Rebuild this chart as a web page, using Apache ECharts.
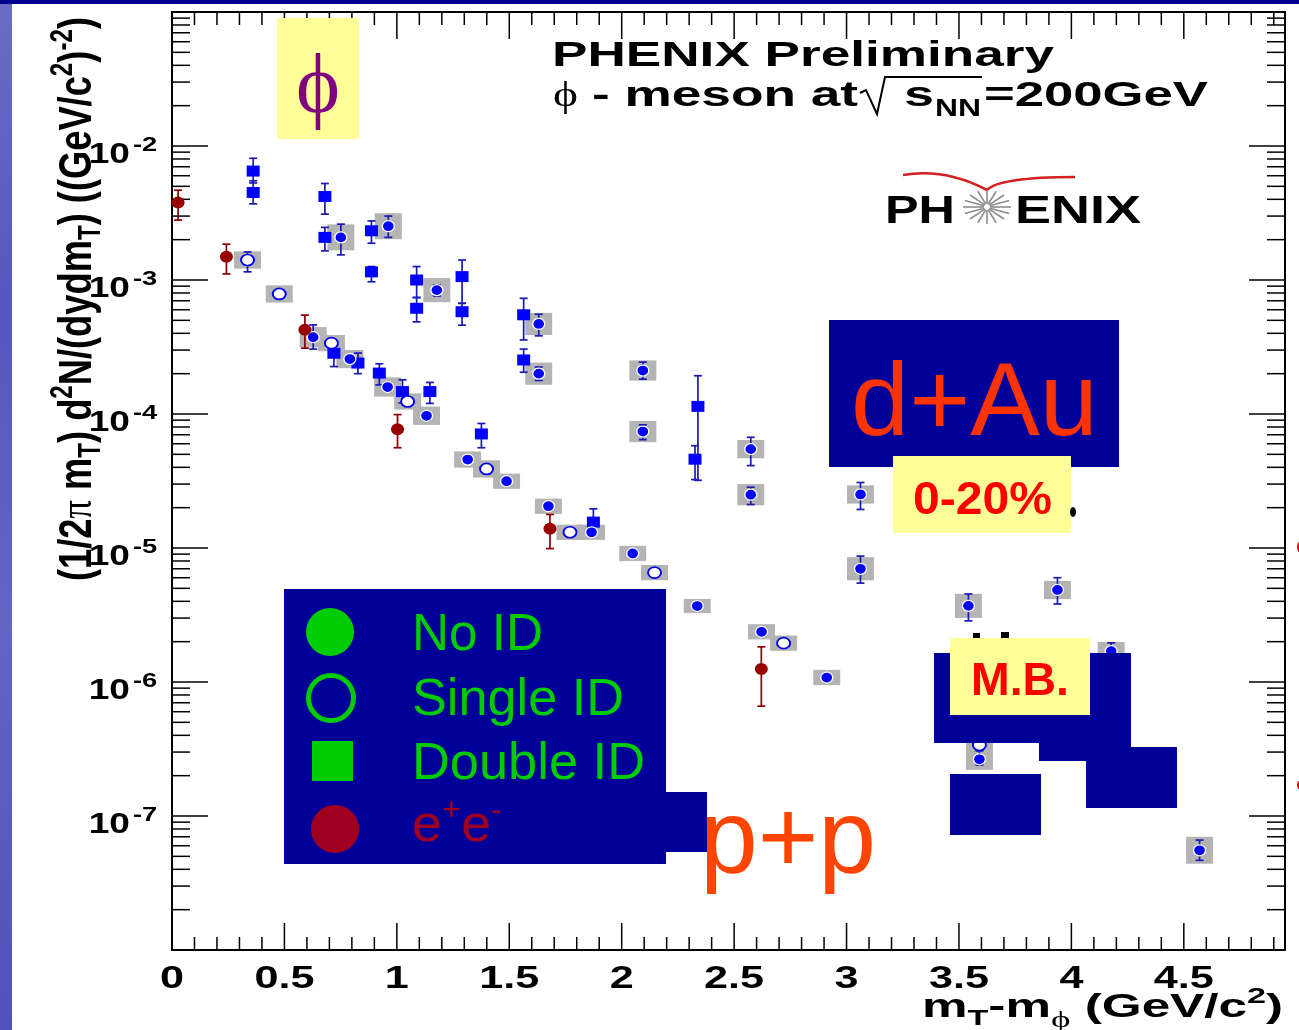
<!DOCTYPE html>
<html><head><meta charset="utf-8">
<script src="https://cdn.jsdelivr.net/npm/echarts@6/dist/echarts.min.js"></script>
<style>html,body{margin:0;padding:0;background:#fff}#c{width:1299px;height:1030px}</style>
</head><body><div id="c"></div>
<script>
// ---------------- data ----------------
const xTickValues = [0, 0.5, 1, 1.5, 2, 2.5, 3, 3.5, 4, 4.5];
const xTickLabels = ['0', '0.5', '1', '1.5', '2', '2.5', '3', '3.5', '4', '4.5'];
const yTickValues = [1e-2, 1e-3, 1e-4, 1e-5, 1e-6, 1e-7];
const yTickExponents = ['-2', '-3', '-4', '-5', '-6', '-7'];

// [x, y, errLow, errHigh, systematic factor]
const noIdPoints = [
  [0.751, 2.08e-3, 1.54e-3, 2.61e-3, 1.25],
  [0.962, 2.52e-3, 2.08e-3, 3.00e-3, 1.25],
  [1.178, 8.4e-4, 7.6e-4, 9.2e-4, 1.23],
  [1.631, 4.7e-4, 3.83e-4, 5.55e-4, 1.21],
  [1.631, 2.0e-4, 1.78e-4, 2.24e-4, 1.21],
  [0.628, 3.74e-4, 3.05e-4, 4.62e-4, 1.19],
  [0.791, 2.57e-4, 2.40e-4, 2.75e-4, 1.17],
  [0.959, 1.59e-4, 1.48e-4, 1.70e-4, 1.18],
  [1.132, 9.7e-5, 9.0e-5, 1.04e-4, 1.17],
  [1.315, 4.57e-5, 4.3e-5, 4.85e-5, 1.15],
  [1.488, 3.15e-5, 2.95e-5, 3.35e-5, 1.14],
  [1.674, 2.05e-5, 1.93e-5, 2.18e-5, 1.14],
  [1.866, 1.31e-5, 1.23e-5, 1.39e-5, 1.14],
  [2.049, 9.1e-6, 8.6e-6, 9.6e-6, 1.14],
  [2.094, 2.11e-4, 1.82e-4, 2.44e-4, 1.19],
  [2.094, 7.4e-5, 6.44e-5, 8.3e-5, 1.20],
  [2.336, 3.69e-6, 3.5e-6, 3.9e-6, 1.13],
  [2.574, 5.47e-5, 4.12e-5, 6.7e-5, 1.17],
  [2.574, 2.50e-5, 2.11e-5, 2.84e-5, 1.20],
  [2.622, 2.37e-6, 2.2e-6, 2.5e-6, 1.14],
  [2.912, 1.08e-6, 1.02e-6, 1.14e-6, 1.14],
  [3.062, 2.51e-5, 1.94e-5, 3.08e-5, 1.17],
  [3.062, 7.0e-6, 5.47e-6, 8.7e-6, 1.22],
  [3.542, 3.7e-6, 2.86e-6, 4.54e-6, 1.23],
  [3.938, 4.86e-6, 3.82e-6, 6.0e-6, 1.17],
  [4.177, 1.70e-6, 1.45e-6, 1.96e-6, 1.17],
  [3.591, 2.65e-7, 2.4e-7, 3.06e-7, 1.20],
  [4.570, 5.55e-8, 4.67e-8, 6.61e-8, 1.26]
];
const singleIdPoints = [
  [0.336, 1.41e-3, 1.15e-3, 1.62e-3, 1.16],
  [0.477, 7.87e-4, 7.4e-4, 8.4e-4, 1.16],
  [0.709, 3.38e-4, 3.2e-4, 3.56e-4, 1.15],
  [1.048, 1.24e-4, 1.17e-4, 1.31e-4, 1.15],
  [1.399, 3.89e-5, 3.67e-5, 4.12e-5, 1.16],
  [1.770, 1.31e-5, 1.24e-5, 1.38e-5, 1.14],
  [2.146, 6.55e-6, 6.2e-6, 6.9e-6, 1.14],
  [2.720, 1.95e-6, 1.85e-6, 2.05e-6, 1.14],
  [3.591, 3.39e-7, 3.1e-7, 3.7e-7, 1.15]
];
// [x, y, errLow, errHigh]
const doubleIdPoints = [
  [0.361, 6.5e-3, 5.3e-3, 8.1e-3],
  [0.361, 4.5e-3, 3.7e-3, 5.5e-3],
  [0.680, 4.2e-3, 3.1e-3, 5.25e-3],
  [0.680, 2.08e-3, 1.65e-3, 2.47e-3],
  [0.887, 2.33e-3, 1.88e-3, 2.76e-3],
  [0.887, 1.15e-3, 9.7e-4, 1.26e-3],
  [1.088, 1.0e-3, 7.4e-4, 1.26e-3],
  [1.088, 6.15e-4, 4.87e-4, 7.4e-4],
  [1.290, 1.06e-3, 6.7e-4, 1.41e-3],
  [1.290, 5.8e-4, 4.6e-4, 6.7e-4],
  [1.564, 5.5e-4, 3.57e-4, 7.3e-4],
  [1.564, 2.53e-4, 2.05e-4, 3.05e-4],
  [0.720, 2.84e-4, 2.26e-4, 3.47e-4],
  [0.827, 2.40e-4, 2.0e-4, 2.85e-4],
  [0.922, 2.02e-4, 1.65e-4, 2.37e-4],
  [1.025, 1.47e-4, 1.21e-4, 1.80e-4],
  [1.147, 1.47e-4, 1.20e-4, 1.72e-4],
  [1.376, 7.1e-5, 5.6e-5, 8.5e-5],
  [1.874, 1.56e-5, 1.26e-5, 1.96e-5],
  [2.339, 1.14e-4, 3.2e-5, 1.93e-4],
  [2.326, 4.6e-5, 3.24e-5, 5.8e-5]
];
const eePoints = [
  [0.027, 3.79e-3, 2.80e-3, 4.68e-3],
  [0.242, 1.49e-3, 1.11e-3, 1.85e-3],
  [0.591, 4.25e-4, 3.10e-4, 5.47e-4],
  [1.003, 7.7e-5, 5.6e-5, 9.9e-5],
  [1.681, 1.39e-5, 9.9e-6, 1.78e-5],
  [2.621, 1.25e-6, 6.6e-7, 1.83e-6]
];
const legendLabels = ['No ID', 'Single ID', 'Double ID'];

// ---------------- helpers ----------------
const SANS = '"Liberation Sans", Arial, Helvetica, sans-serif';
const SERIF = '"Liberation Serif", "DejaVu Serif", serif';
const cv = document.createElement('canvas').getContext('2d');
function fnt(size, bold, fam) { return (bold ? 'bold ' : '') + size + 'px ' + (fam || SANS); }
function tw(t, font) { cv.font = font; cv.textBaseline = 'alphabetic'; return cv.measureText(t).width; }
const midCache = {};
function midOff(font) {
  if (midCache[font] != null) return midCache[font];
  cv.font = font; cv.textBaseline = 'alphabetic';
  const a = cv.measureText('H').actualBoundingBoxAscent;
  cv.textBaseline = 'middle';
  const b = cv.measureText('H').actualBoundingBoxAscent;
  cv.textBaseline = 'alphabetic';
  return (midCache[font] = a - b);
}
// frags: [text, size, dy, bold, family, color]
function row(frags, x0, x1, base, color, extra) {
  let x = 0; const kids = [];
  for (const f of frags) {
    const font = fnt(f[1], f[3] !== false, f[4]);
    kids.push({ type: 'text', x: x, y: (f[2] || 0) - midOff(font), z: 100,
      style: { text: f[0], font: font, fill: f[5] || color, align: 'left', verticalAlign: 'middle' } });
    x += tw(f[0], font);
  }
  const s = (x1 != null) ? (x1 - x0) / x : 1;
  return Object.assign({ type: 'group', x: x0, y: base, scaleX: s, children: kids, z: 100 }, extra || {});
}
function rect(x, y, w, h, fill) { return { type: 'rect', z: 100, shape: { x: x, y: y, width: w, height: h }, style: { fill: fill } }; }

// ---------------- overlays ----------------
const NAVY = '#000099', YELLOW = '#ffff99', GREEN = '#00cc00', LRED = '#a00020';
const overlay = [];
// slide background fragments
overlay.push({ type: 'rect', z: 100, shape: { x: 0, y: 0, width: 12, height: 1030 },
  style: { fill: { type: 'linear', x: 0, y: 0, x2: 0, y2: 1, colorStops: [
    { offset: 0, color: '#6a6cc6' }, { offset: 0.3, color: '#5458bb' }, { offset: 0.6, color: '#6265c2' }, { offset: 1, color: '#4f53b6' }] } } });
overlay.push(rect(0, 0, 1299, 4, '#000090'));
overlay.push({ type: 'ellipse', z: 100, shape: { cx: 1301, cy: 547, rx: 4, ry: 6 }, style: { fill: '#e00000' } });
overlay.push({ type: 'ellipse', z: 100, shape: { cx: 1301, cy: 785, rx: 4, ry: 5 }, style: { fill: '#e00000' } });

// phi box
overlay.push(rect(277, 18, 82, 121, YELLOW));
overlay.push(row([['\u03D5', 84, 0, false, SERIF]], 296, 340, 112, '#800080'));

// title
overlay.push(row([['PHENIX Preliminary', 35]], 552, 1054, 66, '#000'));
overlay.push(row([['\u03D5', 36, 0, false, SERIF]], 553, 578, 106, '#000'));
overlay.push(row([['- meson at', 35]], 592, 858, 106, '#000'));
overlay.push({ type: 'polyline', z: 100, shape: { points: [[860, 93], [866, 90], [877, 114], [885, 77], [982, 77]] },
  style: { stroke: '#000', lineWidth: 2, fill: null } });
overlay.push(row([['s', 35]], 904, 934, 106, '#000'));
overlay.push(row([['NN', 24]], 935, 981, 116, '#000'));
overlay.push(row([['=200GeV', 35]], 984, 1208, 106, '#000'));

// PHENIX logo
overlay.push(row([['PH', 38]], 885, 955, 223, '#000'));
overlay.push(row([['ENIX', 38]], 1015, 1141, 223, '#000'));
(function () {
  const cx = 987, cy = 207;
  for (let i = 0; i < 16; i++) {
    const a = i * Math.PI / 8;
    overlay.push({ type: 'line', z: 100, shape: { x1: cx + 3 * Math.cos(a), y1: cy + 3 * Math.sin(a), x2: cx + 24 * Math.cos(a), y2: cy + 17 * Math.sin(a) },
      style: { stroke: '#8c8c8c', lineWidth: 1.6 } });
  }
})();
overlay.push({ type: 'bezierCurve', z: 100, shape: { x1: 903, y1: 175, cpx1: 945, cpy1: 168, x2: 987, y2: 190 }, style: { stroke: '#d42020', lineWidth: 2.6, fill: null } });
overlay.push({ type: 'bezierCurve', z: 100, shape: { x1: 987, y1: 190, cpx1: 1000, cpy1: 177, x2: 1075, y2: 177 }, style: { stroke: '#d42020', lineWidth: 2.6, fill: null } });

// d+Au block
overlay.push(rect(829, 320, 290, 147, NAVY));
overlay.push(row([['d+Au', 104, 0, false]], 851, 1098, 435, '#ff3300'));
overlay.push(rect(893, 456, 178, 77, YELLOW));
overlay.push(row([['0-20%', 46]], 913, 1052, 514, '#ff0000'));
overlay.push({ type: 'ellipse', z: 100, shape: { cx: 1073, cy: 512, rx: 3, ry: 5 }, style: { fill: '#000' } });

// M.B. block
overlay.push(rect(934, 653, 197, 90, NAVY));
overlay.push(rect(1039, 740, 92, 21, NAVY));
overlay.push(rect(1086, 747, 91, 61, NAVY));
overlay.push(rect(950, 774, 91, 61, NAVY));
overlay.push(rect(973, 633, 7, 6, '#000'));
overlay.push(rect(1001, 632, 8, 7, '#000'));
overlay.push(rect(950, 638, 140, 77, YELLOW));
overlay.push(row([['M.B.', 46]], 971, 1069, 695, '#ff0000'));

// legend
overlay.push(rect(284, 589, 382, 275, NAVY));
overlay.push(rect(664, 792, 43, 60, NAVY));
overlay.push({ type: 'circle', z: 100, shape: { cx: 330, cy: 632, r: 24 }, style: { fill: GREEN } });
overlay.push({ type: 'circle', z: 100, shape: { cx: 331, cy: 698, r: 22.5 }, style: { fill: null, stroke: GREEN, lineWidth: 5 } });
overlay.push(rect(312, 741, 41, 40, GREEN));
overlay.push({ type: 'circle', z: 100, shape: { cx: 335, cy: 829, r: 24 }, style: { fill: LRED } });
overlay.push(row([[legendLabels[0], 52, 0, false]], 412, 543, 650, GREEN));
overlay.push(row([[legendLabels[1], 52, 0, false]], 412, 624, 715, GREEN));
overlay.push(row([[legendLabels[2], 52, 0, false]], 412, 645, 779, GREEN));
overlay.push(row([['e', 52, 0, false], ['+', 32, -21, false], ['e', 52, 0, false], ['-', 32, -21, false]], 412, 502, 841, LRED));
overlay.push(row([['p+p', 104, 0, false]], 700, 876, 872, '#ff4400'));

// axis titles
overlay.push(row([['m', 33], ['T', 22, 8], ['-m', 33], ['\u03D5', 24, 10, false, SERIF], [' (GeV/c', 33], ['2', 22, -14], [')', 33]], 922, 1283, 1017, '#000'));
overlay.push(row([['(1/2', 30], ['\u03C0', 30, 0, false, SERIF], [' m', 30], ['T', 20, 6], [') d', 30], ['2', 20, -12], ['N/(dydm', 30], ['T', 20, 6],
  [') ((GeV/c', 30], ['2', 20, -12], [')', 30], ['-2', 20, -12], [')', 30]], 0, 564, 0, '#000',
  { x: 91, y: 581, rotation: Math.PI / 2, scaleY: 1.55 }));

// ---------------- ticks ----------------
const tickData = [];
for (let i = 0; i <= 49; i++) { const v = i / 10; tickData.push([v, 1e-4, i % 5 === 0 ? 1 : 0]); }
for (let e = -8; e <= -1; e++) {
  const base = Math.pow(10, e);
  tickData.push([0, base, 3]);
  if (e < -1) for (let m = 2; m <= 9; m++) tickData.push([0, m * base, 2]);
}
function tickRender(params, api) {
  const cs = params.coordSys; const k = api.value(2);
  const st = { stroke: '#000', lineWidth: 1.5 };
  if (k < 2) {
    const px = api.coord([api.value(0), 1e-4])[0]; const L = k ? 27 : 13;
    const b = cs.y + cs.height;
    return { type: 'group', children: [
      { type: 'line', shape: { x1: px, y1: b, x2: px, y2: b - L }, style: st },
      { type: 'line', shape: { x1: px, y1: cs.y, x2: px, y2: cs.y + L }, style: st }] };
  }
  const py = api.coord([0.1, api.value(1)])[1]; const L = k === 3 ? 36 : 18;
  const r = cs.x + cs.width;
  return { type: 'group', children: [
    { type: 'line', shape: { x1: cs.x, y1: py, x2: cs.x + L, y2: py }, style: st },
    { type: 'line', shape: { x1: r, y1: py, x2: r - L, y2: py }, style: st }] };
}

// ---------------- tick labels ----------------
const XF = fnt(32, true), YF = fnt(29, true), YSF = fnt(21, true);
function xLabelRender(params, api) {
  const px = api.coord([api.value(0), 1e-4])[0];
  return { type: 'text', x: px, y: 988 - midOff(XF), scaleX: 1.35,
    style: { text: xTickLabels[api.value(2)], font: XF, fill: '#000', align: 'center', verticalAlign: 'middle' } };
}
function yLabelRender(params, api) {
  const py = api.coord([0.1, api.value(1)])[1];
  const i = api.value(2);
  return { type: 'group', children: [
    { type: 'text', x: 130, y: py + 16.5 - midOff(YF), scaleX: 1.28,
      style: { text: '10', font: YF, fill: '#000', align: 'right', verticalAlign: 'middle' } },
    { type: 'text', x: 133, y: py + 5 - midOff(YSF), scaleX: 1.3,
      style: { text: yTickExponents[i], font: YSF, fill: '#000', align: 'left', verticalAlign: 'middle' } }] };
}

// ---------------- systematic boxes & error bars ----------------
const sysData = noIdPoints.concat(singleIdPoints).map(p => [p[0], p[1], p[4]]);
function sysRender(params, api) {
  const x = api.value(0), y = api.value(1), f = api.value(2);
  const a = api.coord([x - 0.06, y * f]), b = api.coord([x + 0.06, y / f]);
  return { type: 'rect', shape: { x: a[0], y: a[1], width: b[0] - a[0], height: b[1] - a[1] }, style: { fill: '#b4b4b4' } };
}
const errData = [];
noIdPoints.forEach(p => errData.push([p[0], p[1], p[2], p[3], 0]));
singleIdPoints.forEach(p => errData.push([p[0], p[1], p[2], p[3], 0]));
doubleIdPoints.forEach(p => errData.push([p[0], p[1], p[2], p[3], 0]));
eePoints.forEach(p => errData.push([p[0], p[1], p[2], p[3], 1]));
function errRender(params, api) {
  const x = api.value(0);
  const hi = api.coord([x, api.value(3)]), lo = api.coord([x, api.value(2)]);
  const st = { stroke: api.value(4) ? '#8b0000' : '#1a1ab4', lineWidth: 1.7 };
  const w = 4;
  return { type: 'group', children: [
    { type: 'line', shape: { x1: hi[0], y1: hi[1], x2: lo[0], y2: lo[1] }, style: st },
    { type: 'line', shape: { x1: hi[0] - w, y1: hi[1], x2: hi[0] + w, y2: hi[1] }, style: st },
    { type: 'line', shape: { x1: lo[0] - w, y1: lo[1], x2: lo[0] + w, y2: lo[1] }, style: st }] };
}

const axisCommon = { min: 0, max: 4.95, axisLine: { show: true, onZero: false, lineStyle: { color: '#000', width: 2 } },
  axisTick: { show: false }, axisLabel: { show: false }, splitLine: { show: false } };
const yCommon = { type: 'log', logBase: 10, min: 1e-8, max: 1e-1, axisLine: { show: true, onZero: false, lineStyle: { color: '#000', width: 2 } },
  axisTick: { show: false }, axisLabel: { show: false }, splitLine: { show: false }, minorTick: { show: false }, minorSplitLine: { show: false } };

const option = {
  animation: false,
  backgroundColor: '#ffffff',
  grid: { left: 172, top: 12, width: 1113, height: 938, containLabel: false },
  xAxis: [Object.assign({ type: 'value', position: 'bottom' }, axisCommon), Object.assign({ type: 'value', position: 'top' }, axisCommon)],
  yAxis: [Object.assign({ position: 'left' }, yCommon), Object.assign({ position: 'right' }, yCommon)],
  series: [
    { type: 'custom', name: 'ticks', renderItem: tickRender, data: tickData, z: 1, silent: true },
    { type: 'custom', name: 'xlabels', renderItem: xLabelRender, data: xTickValues.map((v, i) => [v, 1e-4, i]), z: 1, silent: true },
    { type: 'custom', name: 'ylabels', renderItem: yLabelRender, data: yTickValues.map((v, i) => [0.1, v, i]), z: 1, silent: true },
    { type: 'custom', name: 'sys', renderItem: sysRender, data: sysData, z: 2, silent: true },
    { type: 'custom', name: 'err', renderItem: errRender, data: errData, z: 3, silent: true },
    { type: 'scatter', name: 'Double ID', data: doubleIdPoints.map(p => [p[0], p[1]]), symbol: 'rect', symbolSize: [13, 11],
      itemStyle: { color: '#0000ff', opacity: 1 }, z: 4, silent: true },
    { type: 'scatter', name: 'No ID', data: noIdPoints.map(p => [p[0], p[1]]), symbol: 'circle', symbolSize: [12, 11],
      itemStyle: { color: '#0000ff', borderColor: '#ffffff', borderWidth: 1.3, opacity: 1 }, z: 4, silent: true },
    { type: 'scatter', name: 'Single ID', data: singleIdPoints.map(p => [p[0], p[1]]), symbol: 'circle', symbolSize: [13, 11],
      itemStyle: { color: '#ffffff', borderColor: '#0000ee', borderWidth: 1.8, opacity: 1 }, z: 4, silent: true },
    { type: 'scatter', name: 'e+e-', data: eePoints.map(p => [p[0], p[1]]), symbol: 'circle', symbolSize: [13, 12],
      itemStyle: { color: '#990000', opacity: 1 }, z: 4, silent: true }
  ],
  graphic: { elements: overlay }
};
const chart = echarts.init(document.getElementById('c'), null, { renderer: 'canvas' });
chart.setOption(option);
</script>
</body></html>
